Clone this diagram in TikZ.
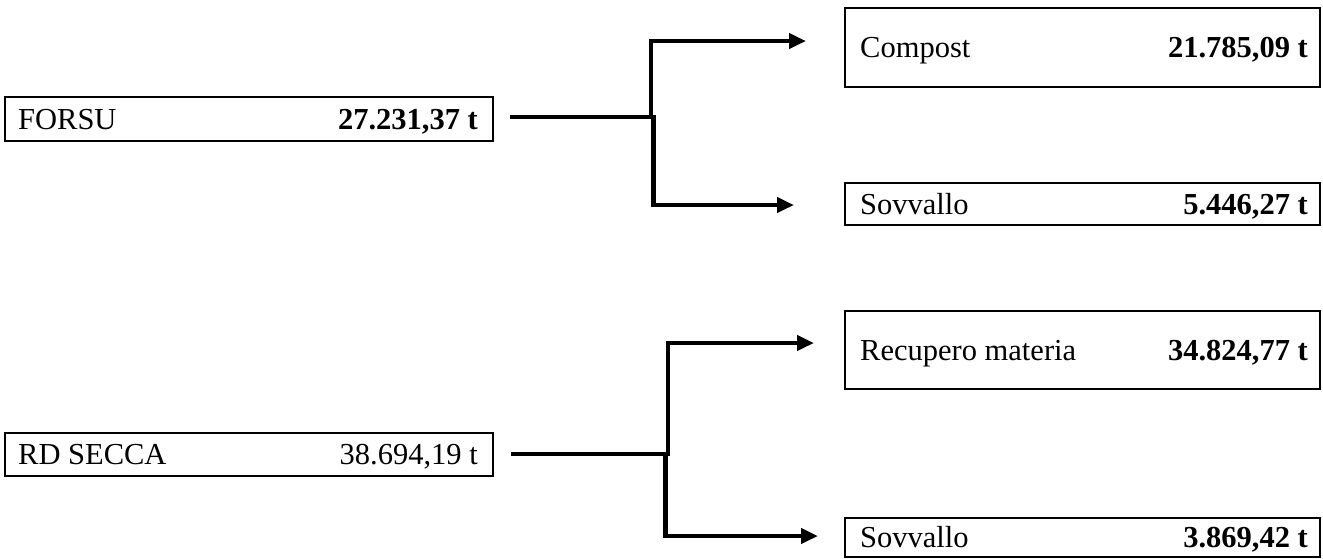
\documentclass[tikz,border=0pt]{standalone}
\usepackage{fontspec}
\setmainfont{Liberation Serif}
\usetikzlibrary{arrows.meta}

\begin{document}
\begin{tikzpicture}[x=1pt,y=-1pt,
  every node/.style={font=\fontsize{30.5}{36}\selectfont},
  box/.style={draw, line width=1.7pt, inner sep=0pt, outer sep=0pt, minimum width=475pt},
  srcbox/.style={box, minimum width=488pt},
  lbl/.style={anchor=base west, inner sep=0pt},
  val/.style={anchor=base east, inner sep=0pt, font=\fontsize{30.5}{36}\selectfont\bfseries},
  valplain/.style={anchor=base east, inner sep=0pt},
  flow/.style={line width=4.6pt, line join=miter},
  flowarrow/.style={flow, -{Triangle[length=17pt,width=15pt]}}]

\useasboundingbox (0,0) rectangle (1323,558);

% source boxes
\node[srcbox, minimum height=44pt] (forsu) at (249,119) {};
\node[srcbox, minimum height=43pt] (secca) at (249,454.5) {};

% destination boxes
\node[box, minimum height=79pt] (compost) at (1082.5,47.5) {};
\node[box, minimum height=42pt] (sov1) at (1082.5,204) {};
\node[box, minimum height=78pt] (recup) at (1082.5,350) {};
\node[box, minimum height=39pt] (sov2) at (1082.5,537.5) {};

% texts
\node[lbl] (forsuL) at ([xshift=13pt,yshift=-10pt]forsu.west) {FORSU};
\node[val] (forsuV) at ([xshift=-15pt,yshift=-10pt]forsu.east) {27.231,37 t};
\node[lbl] (seccaL) at ([xshift=13pt,yshift=-10pt]secca.west) {RD SECCA};
\node[valplain] (seccaV) at ([xshift=-15pt,yshift=-10pt]secca.east) {38.694,19 t};

\node[lbl] (compostL) at ([xshift=15pt,yshift=-10pt]compost.west) {Compost};
\node[val] (compostV) at ([xshift=-12pt,yshift=-10pt]compost.east) {21.785,09 t};
\node[lbl] (sov1L) at ([xshift=15pt,yshift=-10pt]sov1.west) {Sovvallo};
\node[val] (sov1V) at ([xshift=-12pt,yshift=-10pt]sov1.east) {5.446,27 t};
\node[lbl] (recupL) at ([xshift=15pt,yshift=-10pt]recup.west) {Recupero materia};
\node[val] (recupV) at ([xshift=-12pt,yshift=-10pt]recup.east) {34.824,77 t};
\node[lbl] (sov2L) at ([xshift=15pt,yshift=-10pt]sov2.west) {Sovvallo};
\node[val] (sov2V) at ([xshift=-12pt,yshift=-10pt]sov2.east) {3.869,42 t};

% branching connectors, upper group
\coordinate (s1) at ([xshift=17pt,yshift=2pt]forsu.east);
\coordinate (j1a) at (651,117);
\coordinate (j1b) at (653.5,117);
\coordinate (t1a) at (806,41);
\coordinate (t1b) at (794,205);
\draw[flow] (s1) -- (j1b);
\draw[flowarrow] (j1a) |- (t1a);
\draw[flowarrow] ([yshift=2pt]j1b) |- (t1b);

% branching connectors, lower group
\coordinate (s2) at ([xshift=18pt,yshift=0.5pt]secca.east);
\coordinate (j2a) at (668,454);
\coordinate (j2b) at (665.5,454);
\coordinate (t2a) at (814,343);
\coordinate (t2b) at (818,536);
\draw[flow] (s2) -- (j2a);
\draw[flowarrow] ([yshift=-2pt]j2a) |- (t2a);
\draw[flowarrow] ([yshift=2pt]j2b) |- (t2b);

\end{tikzpicture}
\end{document}
